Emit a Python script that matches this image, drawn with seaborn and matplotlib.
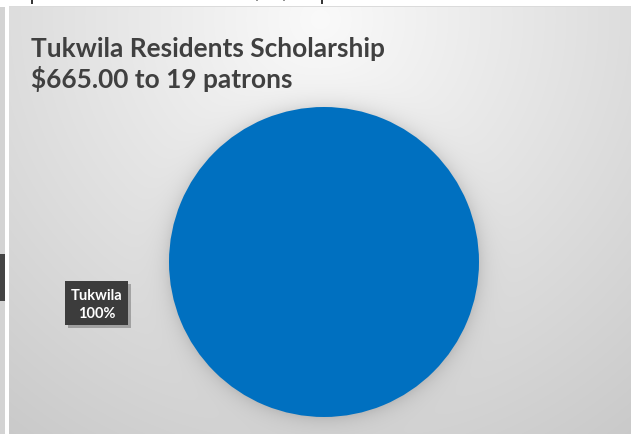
import numpy as np
import matplotlib
matplotlib.use("Agg")
import matplotlib.pyplot as plt
import seaborn as sns
from matplotlib.patches import Rectangle

# ---- data ----
categories = ["Tukwila"]
values = [665.00]
patrons = 19
title_lines = ["Tukwila Residents Scholarship", "$665.00 to 19 patrons"]
pie_colors = ["#0070C0"]

sns.set_theme(style="white")
plt.rcParams['font.family'] = ['Lato', 'DejaVu Sans']

W, H = 631, 435
fig = plt.figure(figsize=(W / 100, H / 100), dpi=100)
fig.patch.set_facecolor("white")

# pie geometry in pixels (from top-left)
cx, cy, R = 324, 263, 155

# ---- background panel with radial gradient + pie shadow ----
px0, py0 = 9, 8
yy, xx = np.mgrid[0:H, 0:W].astype(float)
d = np.hypot(xx - 320, (yy - 20) * 1.0)
g = 0.98 - 0.19 * np.clip(d / 520, 0, 1.2)
r = np.hypot(xx - cx, yy - cy)
shadow = 0.10 * np.exp(-np.clip(r - R, 0, None) / 9.0)
g = g - shadow
img = np.dstack([g, g, g])
img[:py0, :, :] = 1.0
img[:, :px0, :] = 1.0
img[py0:, 0:5, :] = 0.83
img[255:302, 0:5, :] = 0.27
img[py0 - 1:py0, px0:, :] = 0.86
img = np.clip(img, 0, 1)

bg = fig.add_axes([0, 0, 1, 1])
bg.imshow(img, extent=[0, W, H, 0], aspect="auto", interpolation="bilinear")
bg.set_xlim(0, W)
bg.set_ylim(H, 0)
bg.axis("off")
for x0, y1, c in [(32, 5, "#222222"), (322, 5, "#222222"), (257, 2, "#888888"), (284, 2, "#888888")]:
    bg.plot([x0, x0], [0, y1], color=c, lw=1.3, solid_capstyle="butt")

# ---- pie ----
ax = fig.add_axes([(cx - R) / W, (H - cy - R) / H, 2 * R / W, 2 * R / H])
ax.pie(values, colors=pie_colors, startangle=90, counterclock=False,
       wedgeprops=dict(linewidth=0))
ax.set_xlim(-1, 1)
ax.set_ylim(-1, 1)
ax.set_aspect("equal")
ax.axis("off")

# ---- title ----
tcol = "#404040"
fig.text(31 / W, 1 - 57 / H, title_lines[0], fontsize=18.9, fontweight="bold",
         color=tcol, ha="left", va="baseline")
fig.text(31 / W, 1 - 88 / H, title_lines[1], fontsize=18.9, fontweight="bold",
         color=tcol, ha="left", va="baseline")

# ---- data label ----
total = sum(values)
label = f"{categories[0]}\n{values[0] / total * 100:.0f}%"
bx, by, bw, bh = 65, 282, 63, 44
bg.add_patch(Rectangle((bx + 3, by + 3), bw, bh, facecolor="#000000", alpha=0.25, lw=0))
bg.add_patch(Rectangle((bx, by), bw, bh, facecolor="#3c3c3c", lw=0))
bg.text(bx + bw / 2, by + bh / 2 + 1, label, color="white", fontsize=10.5,
        fontweight="bold", ha="center", va="center", linespacing=1.3)

fig.savefig("out.png", dpi=100)
